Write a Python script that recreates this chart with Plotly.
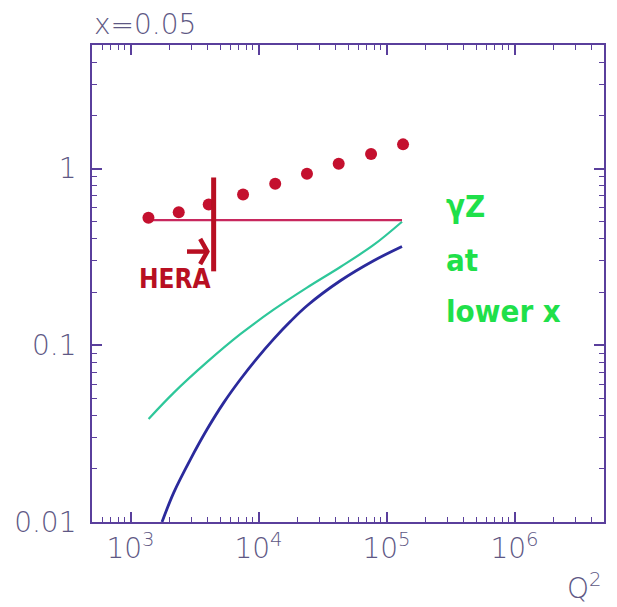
import plotly.graph_objects as go
import math

# ---- data ----
dot_q2 = [1380, 2380, 4080, 7570, 13500, 23900, 42300, 75700, 134600]
dot_val = [0.526, 0.566, 0.625, 0.712, 0.819, 0.933, 1.063, 1.21, 1.37]

flat_q2 = [1384, 132100]
flat_val = [0.511, 0.511]

teal_q2 = [1384, 2171, 3954, 7204, 13115, 23910, 43550, 79250, 132100]
teal_val = [0.0383, 0.0538, 0.0802, 0.1155, 0.159, 0.212, 0.2774, 0.3694, 0.50]

navy_q2 = [1762, 2171, 2931, 3954, 5333, 7204, 9730, 13115, 17710, 23910, 43550, 79250, 132100]
navy_val = [0.0100, 0.01462, 0.02254, 0.03334, 0.0472, 0.064, 0.0843, 0.1083, 0.1362, 0.1674, 0.2317, 0.3008, 0.362]

# HERA limit marker (hand drawn)
hera_bar_q2 = [4460, 4460]
hera_bar_val = [0.89, 0.262]
hera_arrow_q2 = [2760, 3980, None, 3500, 3980, 3500]
hera_arrow_val = [0.339, 0.339, None, 0.40, 0.339, 0.288]

x_tickvals = [1e3, 1e4, 1e5, 1e6]
x_ticktext = ["10<sup>3</sup>", "10<sup>4</sup>", "10<sup>5</sup>", "10<sup>6</sup>"]
y_tickvals = [0.01, 0.1, 1]
y_ticktext = ["0.01", "0.1", "1"]

axis_col = "#5a3f9c"
label_col = "#5e5884"
label_font = dict(family="DejaVu Sans", size=28, color=label_col, weight=200)

fig = go.Figure()
fig.add_trace(go.Scatter(x=teal_q2, y=teal_val, mode="lines", line_shape="spline",
                         line=dict(color="#2ec79a", width=2.2), showlegend=False))
fig.add_trace(go.Scatter(x=navy_q2, y=navy_val, mode="lines", line_shape="spline",
                         line=dict(color="#2b2a9c", width=2.8), showlegend=False))
fig.add_trace(go.Scatter(x=flat_q2, y=flat_val, mode="lines",
                         line=dict(color="#c8285e", width=2.2), showlegend=False))
fig.add_trace(go.Scatter(x=dot_q2, y=dot_val, mode="markers",
                         marker=dict(color="#c4102e", size=12), showlegend=False))
fig.add_trace(go.Scatter(x=hera_bar_q2, y=hera_bar_val, mode="lines",
                         line=dict(color="#b80f22", width=5), showlegend=False))
fig.add_trace(go.Scatter(x=hera_arrow_q2, y=hera_arrow_val, mode="lines",
                         line=dict(color="#b80f22", width=4.5), showlegend=False))

common = dict(type="log", showline=True, linecolor=axis_col, linewidth=1.8,
              mirror="allticks", ticks="inside", ticklen=10, tickwidth=1.8,
              tickcolor=axis_col, showgrid=False, zeroline=False,
              tickfont=label_font,
              minor=dict(ticks="inside", ticklen=5, tickwidth=1.2,
                         tickcolor=axis_col, dtick="D1", showgrid=False))

fig.update_xaxes(range=[math.log10(500), math.log10(5e6)],
                 tickvals=x_tickvals, ticktext=x_ticktext,
                 ticklabelstandoff=0, **common)
fig.update_yaxes(range=[-2, math.log10(5)],
                 tickvals=y_tickvals, ticktext=y_ticktext,
                 ticklabelstandoff=8, **common)

hand = "DejaVu Sans Condensed, Liberation Sans, sans-serif"
fig.update_layout(
    width=617, height=607,
    margin=dict(l=92, r=13, t=45, b=85),
    paper_bgcolor="white", plot_bgcolor="white",
    annotations=[
        dict(text="x=0.05", xref="paper", yref="paper", x=0, y=1.0,
             xanchor="left", yanchor="bottom", yshift=2, showarrow=False,
             font=dict(family="DejaVu Sans", size=28, color=label_col, weight=200)),
        dict(text="Q<sup>2</sup>", xref="paper", yref="paper", x=1.0, y=0,
             xanchor="right", yanchor="top", yshift=-44, showarrow=False,
             font=dict(family="DejaVu Sans", size=28, color=label_col, weight=200)),
        dict(text="<b>HERA</b>", xref="paper", yref="paper",
             x=(137 - 92) / 512, y=(522 - 279) / 477,
             xanchor="left", yanchor="middle", showarrow=False,
             font=dict(family=hand, size=26, color="#b80f22")),
        dict(text="<b>γZ</b>", xref="paper", yref="paper",
             x=(444 - 92) / 512, y=(522 - 206) / 477,
             xanchor="left", yanchor="middle", showarrow=False,
             font=dict(family=hand, size=31, color="#1fe04a")),
        dict(text="<b>at</b>", xref="paper", yref="paper",
             x=(444 - 92) / 512, y=(522 - 260) / 477,
             xanchor="left", yanchor="middle", showarrow=False,
             font=dict(family=hand, size=31, color="#1fe04a")),
        dict(text="<b>lower x</b>", xref="paper", yref="paper",
             x=(444 - 92) / 512, y=(522 - 311) / 477,
             xanchor="left", yanchor="middle", showarrow=False,
             font=dict(family=hand, size=31, color="#1fe04a")),
    ],
)

fig.write_html("out.html", config={"displayModeBar": False},
               post_script="document.body.style.margin='0px';")
